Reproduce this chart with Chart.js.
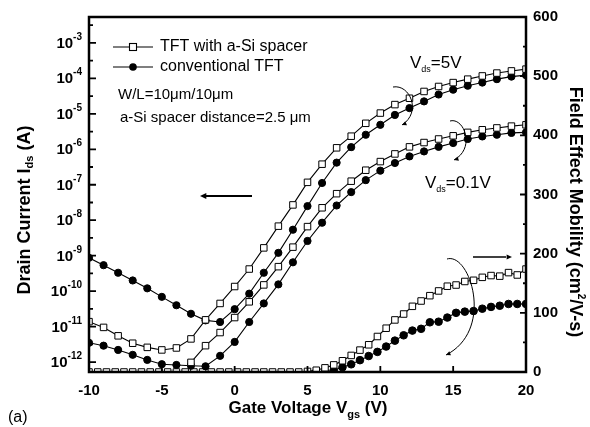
<!DOCTYPE html>
<html><head><meta charset="utf-8">
<script src="https://cdn.jsdelivr.net/npm/chart.js@4"></script>
<style>html,body{margin:0;padding:0;background:#fff}</style>
</head><body>
<canvas id="c" width="590" height="427"></canvas>
<script>
// ---- data ----
const gateVoltage = [-10,-9,-8,-7,-6,-5,-4,-3,-2,-1,0,1,2,3,4,5,6,7,8,9,10,11,12,13,14,15,16,17,18,19,20];
const spacerIds5V = [1.38e-11,9.5e-12,5.5e-12,3.4e-12,2.6e-12,2.2e-12,2.5e-12,4.5e-12,1.55e-11,4.5e-11,1.35e-10,4.2e-10,1.66e-9,6.8e-9,2.7e-8,1.17e-7,3.8e-7,1.1e-6,2.34e-6,5.4e-6,1.05e-5,1.82e-5,2.75e-5,4.27e-5,5.9e-5,7.6e-5,9.5e-5,1.17e-4,1.41e-4,1.62e-4,1.82e-4];
const convIds5V = [8.7e-10,5.4e-10,3.3e-10,2.0e-10,1.2e-10,6.9e-11,4.0e-11,2.3e-11,1.5e-11,1.35e-11,3.1e-11,8.5e-11,3.3e-10,1.2e-9,5.4e-9,2.5e-8,1.12e-7,4.2e-7,1.15e-6,2.57e-6,4.9e-6,9.3e-6,1.45e-5,2.24e-5,3.5e-5,4.8e-5,6.2e-5,7.6e-5,9.5e-5,1.12e-4,1.23e-4];
const spacerIds01V = [null,null,null,null,null,null,null,9.8e-13,2.9e-12,6.8e-12,1.8e-11,5.0e-11,1.5e-10,4.9e-10,1.74e-9,6.6e-9,2.24e-8,5.6e-8,1.26e-7,2.57e-7,4.5e-7,7.4e-7,1.17e-6,1.55e-6,1.95e-6,2.4e-6,3.0e-6,3.55e-6,4.0e-6,4.5e-6,4.9e-6];
const convIds01V = [3.5e-12,2.9e-12,2.2e-12,1.6e-12,1.15e-12,8.7e-13,8.3e-13,7.9e-13,7.6e-13,1.5e-12,3.7e-12,1.35e-11,4.5e-11,1.55e-10,6.5e-10,2.6e-9,8.5e-9,2.6e-8,6.2e-8,1.35e-7,2.5e-7,4.1e-7,6.3e-7,8.7e-7,1.17e-6,1.5e-6,1.95e-6,2.3e-6,2.57e-6,2.9e-6,3.0e-6];

const mobilityVoltage = [-10,-9.4,-8.8,-8.2,-7.6,-7,-6.4,-5.8,-5.2,-4.6,-4,-3.4,-2.8,-2.2,-1.6,-1,-0.4,0.2,0.8,1.4,2,2.6,3.2,3.8,4.4,5,5.6,6.2,6.8,7.4,8,8.6,9.2,9.8,10.4,11,11.6,12.2,12.8,13.4,14,14.6,15.2,15.8,16.4,17,17.6,18.2,18.8,19.4,20];
const spacerMobility = [0,0,0,0,0,0,0,0,0,0,0,0,0,0,0,0,0,0,0,0,0,0,0,0,0,1,3,7,12,19,28,37,46,60,74,88,98,111,120,129,137,145,147,153,155,160,163,162,168,164,174];
const convMobility = [null,null,null,null,null,null,null,null,null,null,null,null,null,null,null,null,null,null,null,null,null,null,null,null,null,null,0,0,3,8,13,20,27,34,43,53,62,70,73,84,85,92,100,102,103,107,110,112,115,115,115];

const xTickValues = [-10,-5,0,5,10,15,20];
const leftTickExponents = [-3,-4,-5,-6,-7,-8,-9,-10,-11,-12];
const rightTickValues = [0,100,200,300,400,500,600];

const seriesNames = ['TFT with a-Si spacer','conventional TFT'];

// ---- helpers ----
const FONT = '"Liberation Sans", Arial, sans-serif';
const pts = (xs, ys) => xs.map((x,i)=>({x:x, y:ys[i]}));
const sq = {pointStyle:'rect', pointRadius:4.6, pointHoverRadius:4.6, pointBackgroundColor:'#fff', pointBorderColor:'#000', pointBorderWidth:1, borderColor:'#000', borderWidth:1.1, showLine:true, spanGaps:false};
const ci = {pointStyle:'circle', pointRadius:3.6, pointHoverRadius:3.6, pointBackgroundColor:'#000', pointBorderColor:'#000', pointBorderWidth:1, borderColor:'#000', borderWidth:1.1, showLine:true, spanGaps:false};

function drawRich(ctx, parts, x, y, align){
  let total = 0;
  parts.forEach(p=>{ctx.font=p.f; p.w=ctx.measureText(p.t).width; total+=p.w;});
  let cx = align==='center' ? x-total/2 : (align==='right' ? x-total : x);
  ctx.textAlign='left';
  parts.forEach(p=>{ctx.font=p.f; ctx.fillText(p.t, cx, y+(p.dy||0)); cx+=p.w;});
  return total;
}
function arrowHead(ctx, fromX, fromY, toX, toY, size){
  const a = Math.atan2(toY-fromY, toX-fromX);
  ctx.beginPath();
  ctx.moveTo(toX, toY);
  ctx.lineTo(toX - size*Math.cos(a-0.45), toY - size*Math.sin(a-0.45));
  ctx.lineTo(toX - size*Math.cos(a+0.45), toY - size*Math.sin(a+0.45));
  ctx.closePath(); ctx.fill();
}

const decorations = {
  id:'decorations',
  afterDraw(chart){
    const ctx = chart.ctx, a = chart.chartArea;
    const xs = chart.scales.x, yl = chart.scales.y, yr = chart.scales.y2;
    ctx.save();
    ctx.fillStyle='#000'; ctx.strokeStyle='#000';
    // frame
    ctx.lineWidth = 2.5;
    ctx.strokeRect(a.left, a.top, a.right-a.left, a.bottom-a.top);
    // ticks
    ctx.lineWidth = 1.8;
    ctx.beginPath();
    xTickValues.forEach(v=>{const p=xs.getPixelForValue(v); ctx.moveTo(p,a.bottom); ctx.lineTo(p,a.bottom-6);});
    leftTickExponents.forEach(e=>{
      const p=yl.getPixelForValue(Math.pow(10,e)); ctx.moveTo(a.left,p); ctx.lineTo(a.left+7,p);
      const m=yl.getPixelForValue(Math.pow(10,e+0.5)); if(m>a.top){ctx.moveTo(a.left,m); ctx.lineTo(a.left+4,m);}
    });
    rightTickValues.forEach(v=>{
      const p=yr.getPixelForValue(v); ctx.moveTo(a.right,p); ctx.lineTo(a.right-6,p);
      const m=yr.getPixelForValue(v+50); if(v<600){ctx.moveTo(a.right,m); ctx.lineTo(a.right-3,m);}
    });
    ctx.stroke();
    // left tick labels 10^n
    ctx.textBaseline='alphabetic';
    leftTickExponents.forEach(e=>{
      const p=yl.getPixelForValue(Math.pow(10,e));
      drawRich(ctx,[{t:'10',f:'bold 15px '+FONT,dy:0},{t:String(e),f:'bold 10px '+FONT,dy:-8}],82,p+5,'right');
    });
    // axis titles
    ctx.save(); ctx.translate(25,210); ctx.rotate(-Math.PI/2);
    ctx.textBaseline='middle';
    drawRich(ctx,[{t:'Drain Current I',f:'bold 18px '+FONT},{t:'ds',f:'bold 11px '+FONT,dy:5},{t:' (A)',f:'bold 18px '+FONT}],0,0,'center');
    ctx.restore();
    ctx.save(); ctx.translate(575,212); ctx.rotate(Math.PI/2);
    ctx.textBaseline='middle';
    drawRich(ctx,[{t:'Field Effect Mobility (cm',f:'bold 18px '+FONT},{t:'2',f:'bold 10px '+FONT,dy:-6},{t:'/V-s)',f:'bold 18px '+FONT}],0,0,'center');
    ctx.restore();
    ctx.textBaseline='alphabetic';
    drawRich(ctx,[{t:'Gate Voltage V',f:'bold 17px '+FONT},{t:'gs',f:'bold 11px '+FONT,dy:5},{t:' (V)',f:'bold 17px '+FONT}],308,413,'center');
    ctx.font='16px '+FONT; ctx.textAlign='left';
    ctx.fillText('(a)',8,422);
    // legend
    ctx.lineWidth=1.1;
    ctx.beginPath(); ctx.moveTo(113,47); ctx.lineTo(153,47); ctx.moveTo(113,67); ctx.lineTo(153,67); ctx.stroke();
    ctx.fillStyle='#fff'; ctx.fillRect(129.5,43.5,7,7); ctx.strokeRect(129.5,43.5,7,7);
    ctx.fillStyle='#000'; ctx.beginPath(); ctx.arc(133,67,3.8,0,Math.PI*2); ctx.fill();
    ctx.font='16px '+FONT; ctx.textBaseline='middle';
    ctx.fillText(seriesNames[0],160,47);
    ctx.fillText(seriesNames[1],160,67);
    ctx.font='15px '+FONT;
    ctx.fillText('W/L=10\u03bcm/10\u03bcm',118,95);
    ctx.fillText('a-Si spacer distance=2.5 \u03bcm',120,118);
    // Vds labels
    ctx.textBaseline='alphabetic';
    drawRich(ctx,[{t:'V',f:'17px '+FONT},{t:'ds',f:'9px '+FONT,dy:4},{t:'=5V',f:'17px '+FONT}],410,68,'left');
    drawRich(ctx,[{t:'V',f:'17px '+FONT},{t:'ds',f:'9px '+FONT,dy:4},{t:'=0.1V',f:'17px '+FONT}],425,188,'left');
    // straight arrows
    ctx.lineWidth=2;
    ctx.beginPath(); ctx.moveTo(206,196); ctx.lineTo(252,196); ctx.stroke();
    arrowHead(ctx,252,196,200,196,7);
    ctx.lineWidth=1.5;
    ctx.beginPath(); ctx.moveTo(473,257); ctx.lineTo(506,257); ctx.stroke();
    arrowHead(ctx,473,257,512,257,6);
    // curved arrows
    ctx.lineWidth=1;
    const arcs = [
      [[393,87],[410,84],[422,112],[402,125]],
      [[450,121],[464,117],[476,148],[454,160]],
      [[447,259],[470,252],[495,330],[446,355]]
    ];
    arcs.forEach(c=>{
      ctx.beginPath(); ctx.moveTo(c[0][0],c[0][1]);
      ctx.bezierCurveTo(c[1][0],c[1][1],c[2][0],c[2][1],c[3][0],c[3][1]); ctx.stroke();
      arrowHead(ctx,c[2][0]-4,c[2][1]+6,c[3][0],c[3][1],5);
    });
    ctx.restore();
  }
};

new Chart(document.getElementById('c'), {
  type:'scatter',
  data:{datasets:[
    Object.assign({label:seriesNames[0]+' 5V', data:pts(gateVoltage,spacerIds5V), yAxisID:'y'}, sq),
    Object.assign({label:seriesNames[1]+' 5V', data:pts(gateVoltage,convIds5V), yAxisID:'y'}, ci),
    Object.assign({label:seriesNames[0]+' 0.1V', data:pts(gateVoltage,spacerIds01V), yAxisID:'y'}, sq),
    Object.assign({label:seriesNames[1]+' 0.1V', data:pts(gateVoltage,convIds01V), yAxisID:'y'}, ci),
    Object.assign({label:seriesNames[0]+' mobility', data:pts(mobilityVoltage,spacerMobility), yAxisID:'y2'}, sq),
    Object.assign({label:seriesNames[1]+' mobility', data:pts(mobilityVoltage,convMobility), yAxisID:'y2'}, ci, {pointRadius:3.8})
  ]},
  options:{
    responsive:false, animation:false, devicePixelRatio:1,
    layout:{padding:{top:17,left:0,right:0,bottom:0}},
    plugins:{legend:{display:false}, tooltip:{enabled:false}},
    scales:{
      x:{type:'linear', min:-10, max:20, position:'bottom',
        afterBuildTicks:s=>{s.ticks=xTickValues.map(v=>({value:v}));},
        afterFit:s=>{s.height=55;},
        grid:{display:false, drawTicks:false}, border:{display:false},
        ticks:{padding:10, color:'#000', font:{family:FONT, size:15, weight:'bold'}, maxRotation:0}},
      y:{type:'logarithmic', min:5.25e-13, max:5.37e-3, position:'left',
        afterFit:s=>{s.width=89;},
        grid:{display:false, drawTicks:false}, border:{display:false},
        ticks:{display:false}},
      y2:{type:'linear', min:0, max:600, position:'right',
        afterBuildTicks:s=>{s.ticks=rightTickValues.map(v=>({value:v}));},
        afterFit:s=>{s.width=64;},
        grid:{display:false, drawTicks:false}, border:{display:false},
        ticks:{padding:7, color:'#000', font:{family:FONT, size:15, weight:'bold'}}}
    }
  },
  plugins:[decorations]
});
</script>
</body></html>
